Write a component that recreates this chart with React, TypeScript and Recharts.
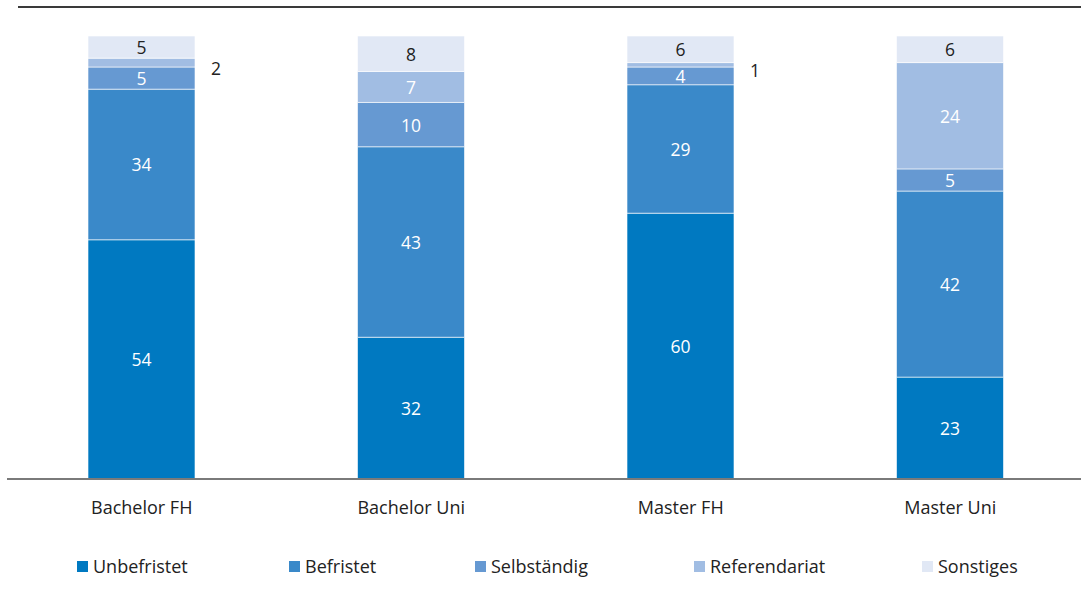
import React from 'react'
import { BarChart, Bar, XAxis, YAxis, LabelList } from 'recharts'

const categories = ['Bachelor FH', 'Bachelor Uni', 'Master FH', 'Master Uni']
const unbefristet = [54, 32, 60, 23]
const befristet = [34, 43, 29, 42]
const selbstaendig = [5, 10, 4, 5]
const referendariat = [2, 7, 1, 24]
const sonstiges = [5, 8, 6, 6]

const series = [
  { key: 'unbefristet', name: 'Unbefristet', color: '#0079c1', values: unbefristet, text: '#ffffff' },
  { key: 'befristet', name: 'Befristet', color: '#3a89c9', values: befristet, text: '#ffffff' },
  { key: 'selbstaendig', name: 'Selbständig', color: '#6699d2', values: selbstaendig, text: '#ffffff' },
  { key: 'referendariat', name: 'Referendariat', color: '#a1bde3', values: referendariat, text: '#ffffff' },
  { key: 'sonstiges', name: 'Sonstiges', color: '#e1e8f5', values: sonstiges, text: '#222222' },
]

const data = categories.map((c, i) => {
  const row: Record<string, any> = { name: c }
  series.forEach((s) => { row[s.key] = s.values[i] })
  return row
})

const FONT = '"Open Sans", sans-serif'

const makeLabel = (textColor: string) => (props: any) => {
  const { x, y, width, height, value } = props
  if (value < 3) {
    return (
      <text x={x + width + 21} y={y + height / 2 + 5} textAnchor="middle" dominantBaseline="central" fill="#222" fontSize={17.5} fontFamily={FONT}>
        {value}
      </text>
    )
  }
  return (
    <text x={x + width / 2} y={y + height / 2} textAnchor="middle" dominantBaseline="central" fill={textColor} fontSize={17.5} fontFamily={FONT}>
      {value}
    </text>
  )
}

const legendX = [77, 289, 475, 694, 922]

export default function App() {
  return (
    <div style={{ position: 'absolute', left: 0, top: 0, width: 1081, height: 598, overflow: 'hidden', background: '#fff', fontFamily: FONT }}>
      <div style={{ position: 'absolute', left: 18, right: 0, top: 6, height: 2, background: '#3a3a3a' }} />
      <BarChart width={1085} height={598} data={data} margin={{ top: 36, right: 0, left: 7, bottom: 0 }}>
        <XAxis
          dataKey="name"
          height={119}
          tickLine={false}
          axisLine={{ stroke: '#7a7a7a', strokeWidth: 2 }}
          tick={{ fontSize: 18, fill: '#222', fontFamily: FONT }}
          tickMargin={16}
        />
        <YAxis hide domain={[0, 100]} />
        {series.map((s) => (
          <Bar key={s.key} dataKey={s.key} name={s.name} stackId="a" fill={s.color} stroke="#ffffff" strokeWidth={0.6} barSize={107} isAnimationActive={false}>
            <LabelList dataKey={s.key} content={makeLabel(s.text)} />
          </Bar>
        ))}
      </BarChart>
      {series.map((s, i) => (
        <div key={s.key} style={{ position: 'absolute', left: legendX[i], top: 554, display: 'flex', alignItems: 'center', fontSize: 18, color: '#222' }}>
          <span style={{ display: 'inline-block', width: 11, height: 11, background: s.color, marginRight: 5 }} />
          {s.name}
        </div>
      ))}
    </div>
  )
}
